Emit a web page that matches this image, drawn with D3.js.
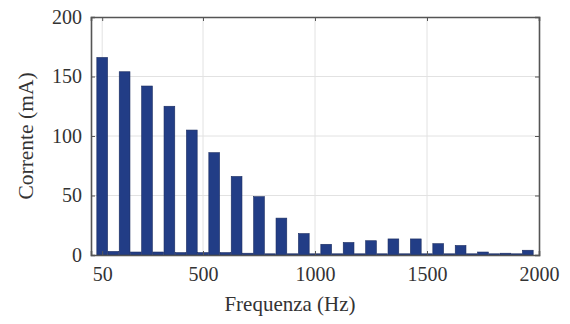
<!DOCTYPE html>
<html>
<head>
<meta charset="utf-8">
<script src="https://cdn.jsdelivr.net/npm/d3@7"></script>
<style>
  body { margin: 0; background: #fff; }
  svg { display: block; font-family: "Liberation Serif", "Times New Roman", serif; }
</style>
</head>
<body>
<svg width="570" height="324"></svg>
<script>
const width = 570;
const height = 324;
const margin = { top: 17, right: 31, bottom: 69, left: 91 };

// odd harmonics (big bars) and even harmonics (tiny bars)
const oddFreq = [50, 150, 250, 350, 450, 550, 650, 750, 850, 950, 1050, 1150, 1250, 1350, 1450, 1550, 1650, 1750, 1850, 1950];
const oddCurrent = [166, 154, 142, 125, 105, 86, 66, 49, 31, 18, 9, 10.5, 12, 13.5, 13.5, 9.5, 8, 2.5, 1.5, 4];
const evenFreq = [100, 200, 300, 400, 500, 600, 700, 800, 900, 1000, 1100, 1200, 1300, 1400, 1500, 1600, 1700, 1800, 1900];
const evenCurrent = [3, 2.5, 2.5, 2, 2, 2, 1.5, 1, 1, 1, 1, 1, 1, 1, 1, 1, 1, 1, 1];

const xTicks = [50, 500, 1000, 1500, 2000];
const yTicks = [0, 50, 100, 150, 200];

const data = oddFreq.map((f, i) => ({ f, v: oddCurrent[i] }))
  .concat(evenFreq.map((f, i) => ({ f, v: evenCurrent[i] })));

const svg = d3.select("svg");

const x = d3.scaleLinear().domain([0, 2000]).range([margin.left, width - margin.right]);
const y = d3.scaleLinear().domain([0, 200]).range([height - margin.bottom, margin.top]);

const barW = x(48) - x(0);

// grid
svg.append("g")
  .selectAll("line")
  .data(xTicks.slice(0, -1))
  .enter()
  .append("line")
  .attr("x1", d => x(d)).attr("x2", d => x(d))
  .attr("y1", y(0)).attr("y2", y(200))
  .attr("stroke", "#e2e2e2");

svg.append("g")
  .selectAll("line")
  .data(yTicks.slice(1, -1))
  .enter()
  .append("line")
  .attr("x1", x(0)).attr("x2", x(2000))
  .attr("y1", d => y(d)).attr("y2", d => y(d))
  .attr("stroke", "#e2e2e2");

// bars
svg.append("g")
  .selectAll("rect")
  .data(data)
  .enter()
  .append("rect")
  .attr("x", d => x(d.f) - barW / 2)
  .attr("y", d => y(d.v))
  .attr("width", barW)
  .attr("height", d => y(0) - y(d.v))
  .attr("fill", "#223d86")
  .attr("stroke", "#1a2c60")
  .attr("stroke-width", 0.6);

// axes
const xAxis = d3.axisBottom(x).tickValues(xTicks).tickFormat(d3.format("d")).tickSize(-4).tickPadding(12);
const yAxis = d3.axisLeft(y).tickValues(yTicks).tickFormat(d3.format("d")).tickSize(-4).tickPadding(9);

svg.append("g")
  .attr("transform", `translate(0,${height - margin.bottom})`)
  .call(xAxis);

svg.append("g")
  .attr("transform", `translate(${margin.left},0)`)
  .call(yAxis);

svg.append("g")
  .attr("transform", `translate(0,${margin.top})`)
  .call(d3.axisTop(x).tickValues(xTicks).tickSize(-4).tickFormat(""));

svg.append("g")
  .attr("transform", `translate(${width - margin.right},0)`)
  .call(d3.axisRight(y).tickValues(yTicks).tickSize(-4).tickFormat(""));

svg.selectAll(".domain").attr("stroke", "#555").attr("stroke-width", 1.6);
svg.selectAll(".tick line").attr("stroke", "#555");
svg.selectAll(".tick text")
  .attr("font-family", "Liberation Serif, serif")
  .attr("font-size", 20)
  .attr("fill", "#333");

// labels
svg.append("text")
  .attr("x", 290)
  .attr("y", 311)
  .attr("text-anchor", "middle")
  .attr("font-size", 21)
  .attr("fill", "#333")
  .text("Frequenza (Hz)");

svg.append("text")
  .attr("transform", `translate(33,${(margin.top + height - margin.bottom) / 2}) rotate(-90)`)
  .attr("text-anchor", "middle")
  .attr("font-size", 21.5)
  .attr("fill", "#333")
  .text("Corrente (mA)");
</script>
</body>
</html>
